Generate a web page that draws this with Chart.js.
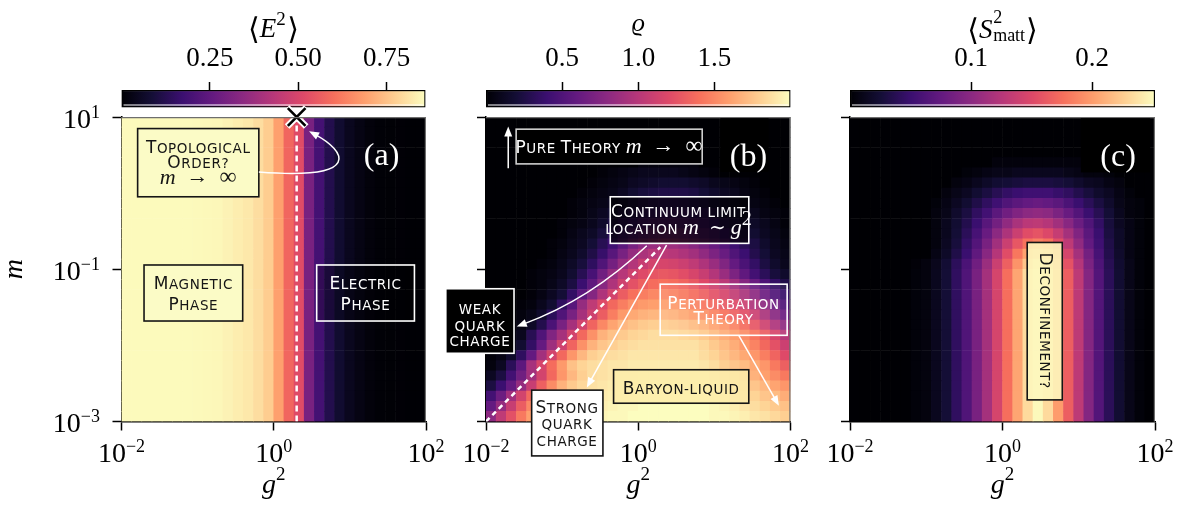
<!DOCTYPE html>
<html>
<head>
<meta charset="utf-8">
<title>Phase diagram</title>
<script src="https://cdn.jsdelivr.net/npm/chart.js@4.4.1/dist/chart.umd.min.js"></script>
<style>
  html, body { margin: 0; padding: 0; background: #fff; }
  #fig { position: relative; width: 1179px; height: 509px; overflow: hidden; background: #fff; }
  #fig canvas { position: absolute; top: 0; }
</style>
</head>
<body>
<div id="fig">
  <canvas id="cb-a" width="350" height="112" style="left:100px"></canvas>
  <canvas id="cb-b" width="350" height="112" style="left:465px"></canvas>
  <canvas id="cb-c" width="350" height="112" style="left:829px"></canvas>
  <canvas id="panel-a" width="470" height="509" style="left:0px"></canvas>
  <canvas id="panel-b" width="398" height="509" style="left:432px"></canvas>
  <canvas id="panel-c" width="379" height="509" style="left:800px"></canvas>
</div>
<script>
"use strict";

// ===== axes =====
var g2Range = [1e-2, 1e2];
var mRange = [1e-3, 1e1];
var xTicks = [1e-2, 1, 1e2];
var xTickExp = ['\u22122', '0', '2'];
var yTicks = [1e-3, 1e-1, 1e1];
var yTickExp = ['\u22123', '\u22121', '1'];
var nCells = 30;

// ===== colour bars =====
var e2Range = [0, 0.86];
var e2Ticks = [0.25, 0.5, 0.75];
var e2TickLabels = ['0.25', '0.50', '0.75'];
var rhoRange = [0, 2.0];
var rhoTicks = [0.5, 1.0, 1.5];
var rhoTickLabels = ['0.5', '1.0', '1.5'];
var s2Range = [0, 0.252];
var s2Ticks = [0.1, 0.2];
var s2TickLabels = ['0.1', '0.2'];

// ===== (a) <E^2> : one value per g^2 column, the same for every m =====
var e2Col = [.855, .855, .855, .855, .855, .855, .855, .853, .85, .848, .84, .83, .82, .8, .77,
             .69, .58, .52, .3, .19, .12, .075, .045, .025, .012, .006, .004, .003, .002, .002];

// ===== (b) rho : rows from m = 10 (top) down to m = 1e-3 =====
var rhoRows = [
  [0,0,0,0,0,0,0,0,0,0,0,0,0,0,0,0,0,0,0,0,0,0,0,0,0,0,0,0,0,0],
  [0,0,0,0,0,0,0,0,0,0,0,0,0,0,0,0,0,0,0,0,0,0,0,0,0,0,0,0,0,0],
  [0,0,0,0,0,0,0,0,0,0,0,0,0,0,0,0,0,0,0,0,0,0,0,0,0,0,0,0,0,0],
  [0,0,0,0,0,0,0,0,0,0,0,0,0,0,0,0,0,0,0,0,0,0,0,0,0,0,0,0,0,0],
  [0,0,0,0,0,0,0,0,0,0,0,0,0,0,0,.04,.04,.04,.04,.04,.04,0,0,0,0,0,0,0,0,0],
  [0,0,0,0,0,0,0,0,0,0,0,.02,.04,.06,.08,.1,.1,.1,.1,.08,.06,.04,.02,0,0,0,0,0,0,0],
  [0,0,0,0,0,0,0,0,0,0,.02,.04,.06,.08,.12,.14,.16,.18,.18,.18,.16,.14,.1,.08,.06,.04,.02,0,0,0],
  [0,0,0,0,0,0,0,0,0,.02,.04,.06,.08,.12,.18,.22,.24,.26,.26,.26,.24,.2,.16,.12,.1,.06,.04,.02,0,0],
  [0,0,0,0,0,0,0,0,.02,.04,.06,.08,.12,.18,.24,.3,.34,.36,.36,.34,.32,.28,.22,.18,.14,.1,.06,.04,.02,0],
  [0,0,0,0,0,0,0,0,.02,.04,.08,.12,.18,.26,.32,.38,.42,.46,.46,.44,.4,.36,.3,.24,.2,.14,.1,.06,.04,.02],
  [0,0,0,0,0,0,0,.02,.04,.06,.1,.16,.24,.34,.42,.5,.56,.58,.58,.56,.52,.46,.4,.32,.26,.2,.14,.1,.06,.02],
  [0,0,0,0,0,0,0,.02,.06,.1,.14,.22,.32,.44,.56,.64,.7,.74,.74,.7,.64,.58,.5,.42,.34,.26,.18,.12,.08,.04],
  [0,0,0,0,0,0,.02,.04,.08,.12,.2,.3,.42,.56,.7,.8,.86,.9,.88,.84,.78,.7,.62,.52,.42,.32,.24,.16,.1,.06],
  [0,0,0,0,0,0,.02,.06,.1,.16,.26,.38,.54,.7,.84,.94,1,1.02,1,.96,.9,.82,.72,.62,.5,.4,.28,.2,.12,.08],
  [0,0,0,0,0,.02,.04,.08,.14,.22,.34,.5,.68,.84,.98,1.08,1.14,1.16,1.14,1.1,1.04,.96,.86,.74,.6,.48,.36,.24,.16,.1],
  [0,0,0,0,.02,.04,.06,.1,.18,.3,.46,.66,.84,1,1.12,1.2,1.26,1.28,1.26,1.22,1.16,1.08,.98,.86,.72,.58,.44,.32,.22,.16],
  [0,0,0,0,.02,.04,.08,.14,.24,.4,.58,.78,.96,1.12,1.24,1.32,1.38,1.4,1.38,1.34,1.28,1.2,1.12,1.02,.9,.76,.62,.48,.36,.26],
  [0,0,0,0,.02,.06,.12,.2,.36,.56,.76,.96,1.14,1.3,1.4,1.46,1.5,1.5,1.48,1.44,1.38,1.32,1.24,1.16,1.06,.94,.8,.64,.5,.38],
  [0,0,0,.02,.04,.1,.18,.34,.54,.84,1.04,1.2,1.36,1.46,1.54,1.58,1.6,1.6,1.58,1.54,1.48,1.42,1.36,1.28,1.2,1.1,.96,.8,.64,.5],
  [0,0,0,.04,.08,.16,.32,.5,.7,.92,1.12,1.3,1.46,1.58,1.64,1.68,1.7,1.7,1.68,1.64,1.6,1.54,1.48,1.4,1.32,1.22,1.1,.94,.78,.64],
  [0,0,.02,.06,.14,.28,.48,.7,.92,1.14,1.34,1.5,1.62,1.7,1.74,1.78,1.8,1.8,1.78,1.76,1.72,1.68,1.62,1.56,1.48,1.38,1.26,1.12,.96,.82],
  [0,.02,.04,.1,.3,.5,.74,.92,1.14,1.36,1.54,1.68,1.74,1.78,1.82,1.84,1.86,1.86,1.86,1.84,1.82,1.78,1.72,1.66,1.6,1.52,1.42,1.3,1.16,1],
  [0,.04,.08,.18,.36,.6,.88,1.12,1.34,1.54,1.68,1.76,1.8,1.84,1.86,1.88,1.88,1.88,1.88,1.88,1.88,1.84,1.78,1.72,1.66,1.58,1.48,1.36,1.24,1.1],
  [.02,.06,.16,.34,.6,.9,1.14,1.36,1.56,1.7,1.8,1.84,1.86,1.88,1.9,1.9,1.9,1.9,1.9,1.9,1.9,1.86,1.82,1.76,1.7,1.64,1.56,1.46,1.34,1.2],
  [.04,.12,.32,.56,.92,1.16,1.38,1.58,1.74,1.82,1.86,1.88,1.9,1.9,1.92,1.92,1.92,1.92,1.92,1.92,1.92,1.9,1.86,1.8,1.76,1.72,1.64,1.56,1.44,1.32],
  [.12,.24,.44,.66,.9,1.14,1.36,1.56,1.7,1.8,1.86,1.88,1.9,1.92,1.92,1.94,1.94,1.94,1.94,1.94,1.94,1.94,1.9,1.86,1.82,1.76,1.68,1.6,1.52,1.44],
  [.24,.4,.6,.84,1.08,1.32,1.52,1.68,1.78,1.84,1.88,1.9,1.92,1.94,1.94,1.96,1.96,1.96,1.96,1.96,1.96,1.96,1.94,1.9,1.86,1.82,1.76,1.7,1.62,1.56],
  [.44,.64,.9,1.14,1.36,1.56,1.7,1.8,1.86,1.88,1.9,1.92,1.94,1.96,1.96,1.98,1.98,1.98,1.98,1.98,1.98,1.98,1.96,1.94,1.9,1.86,1.82,1.76,1.72,1.66],
  [.6,.84,1.08,1.3,1.5,1.66,1.76,1.84,1.88,1.9,1.92,1.94,1.96,1.98,1.98,2,2,2,2,2,2,2,1.98,1.96,1.94,1.9,1.86,1.82,1.78,1.74],
  [.8,1.04,1.24,1.44,1.6,1.72,1.8,1.86,1.9,1.92,1.94,1.96,1.98,1.98,2,2,2,2,2,2,2,2,1.98,1.98,1.96,1.94,1.9,1.88,1.84,1.8]
];

// ===== (c) <S^2_matt> : rows from m = 10 (top); below m ~ 0.03 the stripes no longer change =====
var s2Low = [0,0,0,0,0,0,.003,.005,.013,.025,.043,.063,.088,.115,.145,.175,.205,.233,.25,.233,.2,.165,.13,.095,.065,.04,.023,.01,.003,0];
var s2Rows = [
  [0,0,0,0,0,0,0,0,0,0,0,0,0,0,0,0,0,0,0,0,0,0,0,0,0,0,0,0,0,0],
  [0,0,0,0,0,0,0,0,0,0,0,0,0,0,0,0,0,0,0,0,0,0,0,0,0,0,0,0,0,0],
  [0,0,0,0,0,0,0,0,0,0,0,0,0,0,0,0,0,0,0,0,0,0,0,0,0,0,0,0,0,0],
  [0,0,0,0,0,0,0,0,0,0,0,0,0,0,0,0,0,0,0,0,0,0,0,0,0,0,0,0,0,0],
  [0,0,0,0,0,0,0,0,0,0,0,0,0,0,.004,.004,.004,.004,.004,.004,.004,.004,.004,0,0,0,0,0,0,0],
  [0,0,0,0,0,0,0,0,0,0,0,.003,.005,.008,.01,.01,.013,.013,.013,.013,.013,.01,.008,.005,.005,.003,0,0,0,0],
  [0,0,0,0,0,0,0,0,0,0,.005,.008,.013,.018,.023,.025,.028,.03,.03,.03,.028,.025,.02,.015,.013,.008,.005,0,0,0],
  [0,0,0,0,0,0,0,0,0,.005,.01,.015,.023,.03,.038,.045,.05,.053,.053,.053,.048,.043,.035,.028,.02,.015,.008,.003,0,0],
  [0,0,0,0,0,0,0,0,.003,.008,.015,.023,.033,.043,.053,.063,.07,.075,.078,.075,.07,.06,.05,.04,.03,.02,.01,.005,.003,0],
  [0,0,0,0,0,0,0,0,.005,.01,.02,.03,.043,.055,.07,.083,.093,.1,.103,.1,.09,.078,.065,.05,.038,.025,.013,.005,.003,0],
  [0,0,0,0,0,0,0,0,.005,.013,.023,.035,.05,.068,.085,.103,.118,.128,.13,.125,.113,.098,.08,.063,.045,.028,.015,.008,.003,0],
  [0,0,0,0,0,0,0,0,.005,.013,.025,.04,.058,.078,.1,.12,.138,.153,.158,.15,.135,.115,.093,.07,.05,.03,.018,.008,.003,0],
  [0,0,0,0,0,0,0,0,.005,.015,.028,.045,.065,.088,.113,.138,.16,.178,.185,.178,.155,.13,.103,.075,.053,.033,.018,.008,.003,0],
  [0,0,0,0,0,0,0,0,.008,.018,.033,.05,.073,.098,.125,.153,.18,.203,.215,.203,.175,.145,.115,.085,.058,.035,.02,.008,.003,0],
  [0,0,0,0,0,0,.002,.005,.012,.024,.041,.06,.083,.109,.138,.166,.195,.221,.238,.221,.19,.157,.124,.09,.062,.038,.022,.01,.003,0],
  s2Low, s2Low, s2Low, s2Low, s2Low, s2Low, s2Low, s2Low,
  s2Low, s2Low, s2Low, s2Low, s2Low, s2Low, s2Low
];

// ===== overlays =====
var critG2 = [2, 2], critM = [1e-3, 1e1];        // (a) transition line
var crossG2 = [2], crossM = [10];                  // (a) marker on top edge
var contG2 = [0.01, 1.95], contM = [0.001, 0.195]; // (b) m ~ g^2 line

// ===== layout (figure pixels) =====
var AREA = {
  a: { left: 121.5, top: 117, right: 426, bottom: 421.5, canvasLeft: 0 },
  b: { left: 486, top: 117, right: 790.5, bottom: 421.5, canvasLeft: 432 },
  c: { left: 850, top: 117, right: 1155, bottom: 421.5, canvasLeft: 800 }
};
var CB_TOP = 90, CB_BOTTOM = 107.5;

var SERIF = '"Liberation Serif", "DejaVu Serif", serif';
var SANS = '"DejaVu Sans", sans-serif';
var MAGMA = ['#000004', '#140e36', '#3b0f70', '#641a80', '#8c2981', '#b73779',
             '#de4968', '#f7705c', '#fe9f6d', '#fecf92', '#fcfdbf'];

function hexRgb(h) {
  return [parseInt(h.slice(1, 3), 16), parseInt(h.slice(3, 5), 16), parseInt(h.slice(5, 7), 16)];
}
var MAGMA_RGB = MAGMA.map(hexRgb);

function magma(t) {
  t = Math.max(0, Math.min(1, t));
  var s = t * (MAGMA.length - 1);
  var i = Math.min(MAGMA.length - 2, Math.floor(s));
  var f = s - i, a = MAGMA_RGB[i], b = MAGMA_RGB[i + 1];
  return 'rgb(' + Math.round(a[0] + (b[0] - a[0]) * f) + ',' +
                  Math.round(a[1] + (b[1] - a[1]) * f) + ',' +
                  Math.round(a[2] + (b[2] - a[2]) * f) + ')';
}

function logCenters(range, n) {
  var lo = Math.log10(range[0]), hi = Math.log10(range[1]);
  var out = [];
  for (var i = 0; i < n; i++) out.push(Math.pow(10, lo + (i + 0.5) * (hi - lo) / n));
  return out;
}
var g2Centers = logCenters(g2Range, nCells);
var mCenters = logCenters(mRange, nCells).reverse(); // row 0 = top

function heatCells(rows, range) {
  var pts = [], colors = [];
  rows.forEach(function(row, r) {
    row.forEach(function(v, c) {
      pts.push({ x: g2Centers[c], y: mCenters[r], v: v });
      colors.push(magma((v - range[0]) / (range[1] - range[0])));
    });
  });
  return { pts: pts, colors: colors };
}

// square side = sqrt(2) * radius for the 'rect' point style
function cellRadius(ctx) {
  var a = ctx.chart.chartArea;
  if (!a) return 7;
  return (a.right - a.left) / nCells * 1.06 * Math.SQRT1_2;
}

// ---- text helpers ----
function drawRich(c, parts, x, y, align) {
  var total = 0;
  parts.forEach(function(p) {
    c.font = p.font;
    c.letterSpacing = p.ls || '0px';
    p.w = c.measureText(p.text).width;
    if (!p.stack) total += p.w;
  });
  var cx = align === 'center' ? x - total / 2 : (align === 'right' ? x - total : x);
  c.textAlign = 'left';
  c.textBaseline = 'alphabetic';
  parts.forEach(function(p) {
    c.font = p.font;
    c.letterSpacing = p.ls || '0px';
    c.fillText(p.text, cx, y + (p.dy || 0));
    if (!p.stack) cx += p.w;
  });
  c.letterSpacing = '0px';
}

function sc(text) {
  var runs = [];
  for (var i = 0; i < text.length; i++) {
    var ch = text[i];
    var size = (ch >= 'A' && ch <= 'Z') ? 17 : 13.5;
    var last = runs[runs.length - 1];
    if (last && last.size === size) last.text += ch.toUpperCase();
    else runs.push({ text: ch.toUpperCase(), size: size });
  }
  return runs.map(function(r) { return { text: r.text, font: r.size + 'px ' + SANS, ls: '0.6px' }; });
}
function mi(t, size, dy) { return { text: t, font: 'italic ' + size + 'px ' + SERIF, dy: dy || 0 }; }
function mr(t, size, dy) { return { text: t, font: size + 'px ' + SERIF, dy: dy || 0 }; }
function pow10(exp) { return [mr('10', 28), mr(exp, 18, -10)]; }

// ---- annotation helpers (axes fractions) ----
function P(ch, fx, fy) {
  var a = ch.chartArea;
  return [a.left + fx * (a.right - a.left), a.top + fy * (a.bottom - a.top)];
}
function box(ch, fx0, fy0, fx1, fy1, fill, stroke) {
  var p0 = P(ch, fx0, fy0), p1 = P(ch, fx1, fy1), c = ch.ctx;
  c.save();
  if (fill) { c.fillStyle = fill; c.fillRect(p0[0], p0[1], p1[0] - p0[0], p1[1] - p0[1]); }
  if (stroke) { c.strokeStyle = stroke; c.lineWidth = 1.6; c.strokeRect(p0[0], p0[1], p1[0] - p0[0], p1[1] - p0[1]); }
  c.restore();
}
function label(ch, fx, fy, parts, color) {
  var p = P(ch, fx, fy);
  ch.ctx.save();
  ch.ctx.fillStyle = color;
  drawRich(ch.ctx, parts, p[0], p[1], 'center');
  ch.ctx.restore();
}
function arrow(ch, fpts, color) {
  var pts = fpts.map(function(f) { return P(ch, f[0], f[1]); });
  var c = ch.ctx, end = pts[pts.length - 1], prev = pts[pts.length - 2];
  var ang = Math.atan2(end[1] - prev[1], end[0] - prev[0]);
  var hl = 10, hw = 4;
  var stop = [end[0] - hl * 0.7 * Math.cos(ang), end[1] - hl * 0.7 * Math.sin(ang)];
  c.save();
  c.strokeStyle = color; c.fillStyle = color; c.lineWidth = 1.5;
  c.beginPath();
  c.moveTo(pts[0][0], pts[0][1]);
  if (pts.length === 2) c.lineTo(stop[0], stop[1]);
  else if (pts.length === 3) c.quadraticCurveTo(pts[1][0], pts[1][1], stop[0], stop[1]);
  else c.bezierCurveTo(pts[1][0], pts[1][1], pts[2][0], pts[2][1], stop[0], stop[1]);
  c.stroke();
  var bx = end[0] - hl * Math.cos(ang), by = end[1] - hl * Math.sin(ang);
  c.beginPath();
  c.moveTo(end[0], end[1]);
  c.lineTo(bx + hw * Math.sin(ang), by - hw * Math.cos(ang));
  c.lineTo(bx - hw * Math.sin(ang), by + hw * Math.cos(ang));
  c.closePath();
  c.fill();
  c.restore();
}

// ---- annotations per panel ----
var INK = '#151515';
var PALE = '#fbfbc6';
var ARROW_INF = [mi('m', 22), mr('  \u2192  ', 22, -1), mr('\u221e', 24)];

function annotA(ch) {
  box(ch, .053, .038, .451, .262, PALE, INK);
  label(ch, .252, .119, sc('Topological'), INK);
  label(ch, .252, .168, sc('Order?'), INK);
  label(ch, .252, .221, ARROW_INF, INK);
  arrow(ch, [[.451, .181], [.8, .208], [.734, .11], [.616, .047]], '#fff');
  box(ch, .074, .486, .398, .67, PALE, INK);
  label(ch, .236, .566, sc('Magnetic'), INK);
  label(ch, .236, .634, sc('Phase'), INK);
  box(ch, .641, .486, .962, .67, 'rgba(0,0,0,0.25)', '#fff');
  label(ch, .801, .566, sc('Electric'), '#fff');
  label(ch, .801, .634, sc('Phase'), '#fff');
  label(ch, .854, .158, [mr('(a)', 32)], '#fff');
}

function annotB(ch) {
  arrow(ch, [[.073, .168], [.073, .031]], '#fff');
  box(ch, .099, .04, .71, .154, '#000', '#cfcfcf');
  label(ch, .404, .119, sc('Pure Theory ').concat(ARROW_INF), '#fff');
  box(ch, .77, .004, .928, .18, '#000', null);
  label(ch, .862, .16, [mr('(b)', 32)], '#fff');
  box(ch, .408, .262, .863, .415, 'rgba(0,0,0,0.7)', '#fff');
  label(ch, .632, .328, sc('Continuum limit'), '#fff');
  label(ch, .632, .385, sc('location ').concat([mi('m', 22), mr('  \u223c ', 20), mi('g', 22), mr('2', 20, -9)]), '#fff');
  box(ch, .572, .549, .989, .717, 'rgba(255,255,255,0.08)', '#fff');
  label(ch, .78, .63, sc('Perturbation'), '#fff');
  label(ch, .78, .681, sc('Theory'), '#fff');
  box(ch, .419, .83, .863, .94, 'rgba(252,236,170,0.8)', INK);
  label(ch, .641, .91, sc('Baryon-liquid'), INK);
  box(ch, -.132, .564, .092, .776, '#000', '#fff');
  label(ch, -.02, .646, sc('weak'), '#fff');
  label(ch, -.02, .703, sc('quark'), '#fff');
  label(ch, -.02, .751, sc('charge'), '#fff');
  box(ch, .15, .897, .384, 1.113, '#fff', INK);
  label(ch, .266, .972, sc('Strong'), INK);
  label(ch, .266, 1.025, sc('quark'), INK);
  label(ch, .266, 1.082, sc('charge'), INK);
  arrow(ch, [[.528, .423], [.342, .6], [.101, .688]], '#fff');
  arrow(ch, [[.593, .421], [.331, .888]], '#fff');
  arrow(ch, [[.83, .717], [.962, .948]], '#fff');
}

function annotC(ch) {
  box(ch, .757, .004, .984, .182, '#000', null);
  label(ch, .879, .162, [mr('(c)', 32)], '#fff');
  box(ch, .581, .412, .696, .929, 'rgba(253,246,190,0.9)', INK);
  var p = P(ch, .639, .669), c = ch.ctx;
  c.save();
  c.translate(p[0], p[1]);
  c.rotate(Math.PI / 2);
  c.fillStyle = INK;
  drawRich(c, sc('Deconfinement?'), 0, 5, 'center');
  c.restore();
}

// ---- main panels ----
function logAxis(range, ticks, fit) {
  return {
    type: 'logarithmic', min: range[0], max: range[1], z: 1,
    afterBuildTicks: function(s) { s.ticks = ticks.map(function(v) { return { value: v }; }); },
    afterFit: fit,
    ticks: { display: false },
    grid: { drawOnChartArea: false, tickLength: 9, tickWidth: 1.5, tickColor: '#000' },
    border: { color: '#000', width: 1.5 }
  };
}

function decor(annotate, withY) {
  return {
    id: 'decor',
    afterDraw: function(ch) {
      var c = ch.ctx, a = ch.chartArea, sx = ch.scales.x, sy = ch.scales.y;
      c.save();
      c.strokeStyle = '#6e6e6e';
      c.lineWidth = 1.2;
      c.beginPath();
      c.moveTo(a.left, a.top + 0.6); c.lineTo(a.right, a.top + 0.6);
      c.moveTo(a.right - 0.6, a.top); c.lineTo(a.right - 0.6, a.bottom);
      c.stroke();
      c.fillStyle = '#000';
      xTicks.forEach(function(v, i) {
        drawRich(c, pow10(xTickExp[i]), sx.getPixelForValue(v), a.bottom + 40, 'center');
      });
      drawRich(c, [mi('g', 28), mr('2', 19, -13)], (a.left + a.right) / 2, 493, 'center');
      if (withY) {
        yTicks.forEach(function(v, i) {
          drawRich(c, pow10(yTickExp[i]), a.left - 21.5, sy.getPixelForValue(v) + 10.5, 'right');
        });
        c.save();
        c.translate(21.5, (a.top + a.bottom) / 2);
        c.rotate(-Math.PI / 2);
        drawRich(c, [mi('m', 28)], 0, 0, 'center');
        c.restore();
      }
      annotate(ch);
      c.restore();
    }
  };
}

function makePanel(id, area, rows, range, extra, annotate, withY) {
  var cv = document.getElementById(id);
  var heat = heatCells(rows, range);
  var datasets = [{
    data: heat.pts,
    pointStyle: 'rect',
    pointRadius: cellRadius,
    pointBackgroundColor: heat.colors,
    pointBorderWidth: 0,
    order: 10
  }].concat(extra);
  return new Chart(cv, {
    type: 'scatter',
    data: { datasets: datasets },
    options: {
      responsive: false, animation: false, events: [],
      layout: { padding: { left: 0, top: area.top, right: area.canvasLeft + cv.width - area.right, bottom: 0 } },
      plugins: { legend: { display: false }, tooltip: { enabled: false } },
      scales: {
        x: logAxis(g2Range, xTicks, function(s) { s.height = cv.height - area.bottom; }),
        y: logAxis(mRange, yTicks, function(s) { s.width = area.left - area.canvasLeft; })
      }
    },
    plugins: [decor(annotate, withY)]
  });
}

function pairs(xs, ys) { return xs.map(function(x, i) { return { x: x, y: ys[i] }; }); }

// ---- colour bars ----
function magmaGradient(ch, range) {
  if (!ch.chartArea) return MAGMA[5];
  var sx = ch.scales.x;
  var g = ch.ctx.createLinearGradient(sx.getPixelForValue(range[0]), 0, sx.getPixelForValue(range[1]), 0);
  MAGMA.forEach(function(col, i) { g.addColorStop(i / (MAGMA.length - 1), col); });
  return g;
}

function makeColorbar(id, canvasLeft, left, right, range, ticks, tickLabels, title) {
  var cv = document.getElementById(id);
  return new Chart(cv, {
    type: 'bar',
    data: {
      labels: [''],
      datasets: [{
        data: [[range[0], range[1]]],
        backgroundColor: function(ctx) { return magmaGradient(ctx.chart, range); },
        borderColor: '#000', borderWidth: 1.5, borderSkipped: false,
        barPercentage: 1, categoryPercentage: 1
      }]
    },
    options: {
      indexAxis: 'y', responsive: false, animation: false, events: [],
      layout: { padding: { left: left - canvasLeft, right: canvasLeft + cv.width - right, top: 0, bottom: cv.height - CB_BOTTOM } },
      plugins: { legend: { display: false }, tooltip: { enabled: false } },
      scales: {
        x: {
          type: 'linear', position: 'top', min: range[0], max: range[1],
          afterBuildTicks: function(s) { s.ticks = ticks.map(function(v) { return { value: v }; }); },
          afterFit: function(s) { s.height = CB_TOP; },
          ticks: { display: false },
          grid: { drawOnChartArea: false, tickLength: 8, tickWidth: 1.5, tickColor: '#000' },
          border: { display: false }
        },
        y: { display: false }
      }
    },
    plugins: [{
      id: 'cbDecor',
      afterDraw: function(ch) {
        var c = ch.ctx, a = ch.chartArea, sx = ch.scales.x;
        c.save();
        c.strokeStyle = '#fff';
        c.lineWidth = 1;
        c.beginPath();
        c.moveTo(a.left + 2, a.bottom - 2.5); c.lineTo(a.right - 2, a.bottom - 2.5);
        c.stroke();
        c.fillStyle = '#000';
        ticks.forEach(function(v, i) {
          drawRich(c, [mr(tickLabels[i], 27)], sx.getPixelForValue(v), 65.7, 'center');
        });
        title(c, (a.left + a.right) / 2);
        c.restore();
      }
    }]
  });
}

var BRA = { text: '\u27e8', font: '30px ' + SANS, dy: 2 };
var KET = { text: '\u27e9', font: '30px ' + SANS, dy: 2 };

makeColorbar('cb-a', 100, AREA.a.left, AREA.a.right - 0.5, e2Range, e2Ticks, e2TickLabels, function(c, x) {
  drawRich(c, [BRA, mi('E', 27), mr('2', 19, -12), mr(' ', 6), KET], x, 36.5, 'center');
});
makeColorbar('cb-b', 465, AREA.b.left, AREA.b.right, rhoRange, rhoTicks, rhoTickLabels, function(c, x) {
  drawRich(c, [mi('\u03f1', 26)], x, 31, 'center');
});
makeColorbar('cb-c', 829, AREA.c.left, AREA.c.right, s2Range, s2Ticks, s2TickLabels, function(c, x) {
  var two = mr('2', 18, -15); two.stack = true;
  drawRich(c, [BRA, mi('S', 27), mr(' ', 3), two, mr('matt', 18, 3), mr(' ', 4), KET], x, 38, 'center');
});

var e2Rows = mCenters.map(function() { return e2Col; });

makePanel('panel-a', AREA.a, e2Rows, e2Range, [
  { data: pairs(critG2, critM), showLine: true, borderColor: '#fff', borderWidth: 2.5,
    borderDash: [6, 4], pointRadius: 0, order: 5 },
  { data: pairs(crossG2, crossM), pointStyle: 'crossRot', pointRadius: 13.5, pointBorderWidth: 6.5,
    pointBorderColor: '#fff', clip: false, order: 2 },
  { data: pairs(crossG2, crossM), pointStyle: 'crossRot', pointRadius: 12.5, pointBorderWidth: 2.6,
    pointBorderColor: '#000', clip: false, order: 1 }
], annotA, true);

makePanel('panel-b', AREA.b, rhoRows, rhoRange, [
  { data: pairs(contG2, contM), showLine: true, borderColor: '#fff', borderWidth: 2.5,
    borderDash: [5, 4], pointRadius: 0, order: 5 }
], annotB, false);

makePanel('panel-c', AREA.c, s2Rows, s2Range, [], annotC, false);
</script>
</body>
</html>
